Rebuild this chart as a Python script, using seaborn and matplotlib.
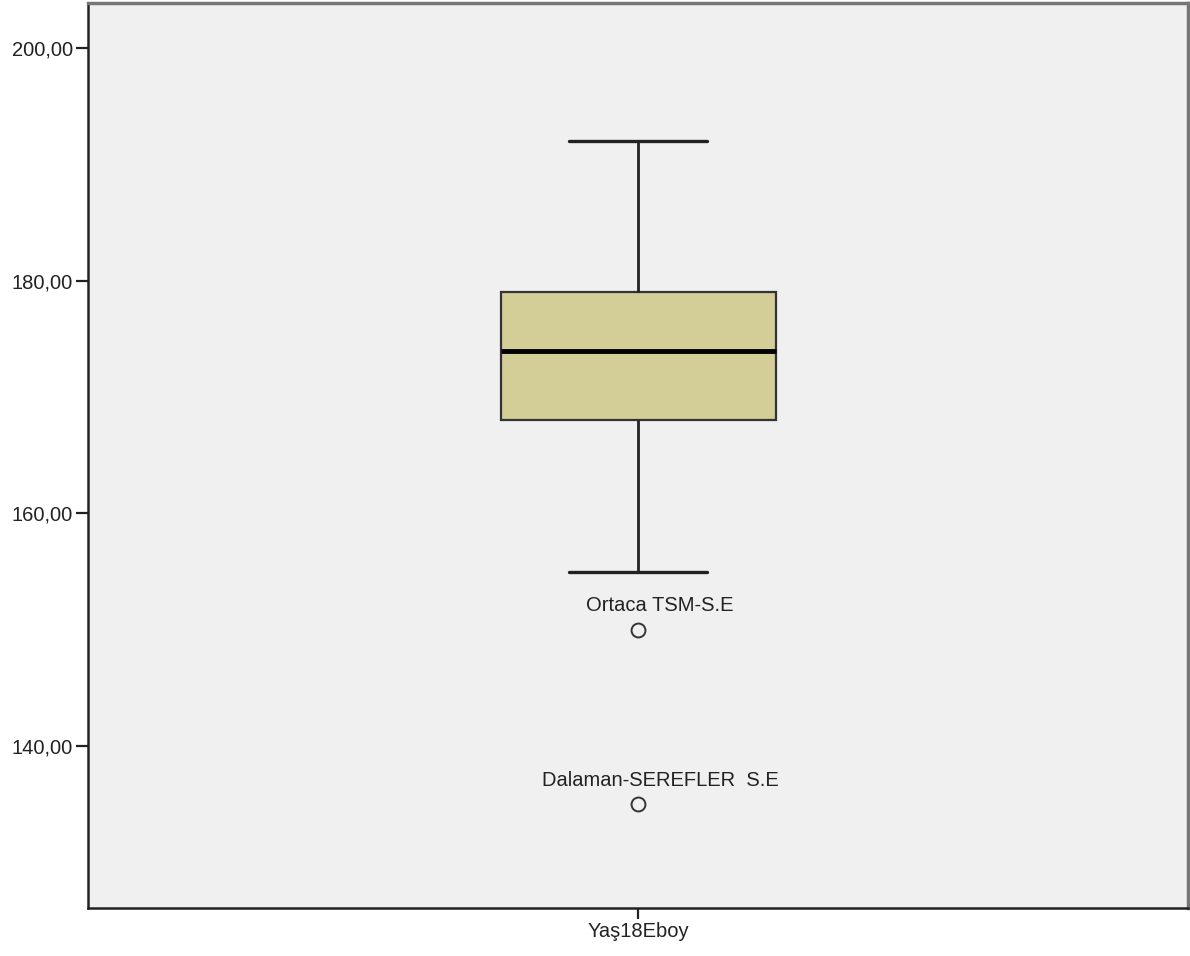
import matplotlib
matplotlib.use("Agg")
import matplotlib.pyplot as plt
import seaborn as sns
import pandas as pd
from matplotlib.ticker import FuncFormatter

# Data (heights; quartiles 168 / 174 / 179, whiskers 155-192, outliers 150 and 135)
variable_name = "Yaş18Eboy"
heights = [135, 150, 155, 168, 170, 172, 174, 176, 178, 179, 184, 188, 192]
outlier_values = [150, 135]
outlier_labels = ["Ortaca TSM-S.E", "Dalaman-SEREFLER  S.E"]
y_ticks = [140, 160, 180, 200]

sns.set_theme(style="ticks")
plt.rcParams["font.family"] = ["Liberation Sans", "DejaVu Sans"]

df = pd.DataFrame({variable_name: heights})

fig = plt.figure(figsize=(11.9, 9.56), dpi=100)
ax = fig.add_axes([88 / 1190, 1 - 908 / 956, 1100 / 1190, 905 / 956])
ax.set_facecolor("#F0F0F0")

sns.boxplot(
    data=df, ax=ax, width=0.25, saturation=1, color="#D3CE98",
    whis=1.5,
    boxprops=dict(edgecolor="#333333", linewidth=1.6),
    whiskerprops=dict(color="#222222", linewidth=2),
    capprops=dict(color="#222222", linewidth=2.4),
    medianprops=dict(color="black", linewidth=3.5),
    flierprops=dict(marker="o", markerfacecolor="none", markeredgecolor="#333333",
                    markersize=10, markeredgewidth=1.4),
)

for val, lab in zip(outlier_values, outlier_labels):
    ax.annotate(lab, xy=(0, val), xytext=(22, 24), textcoords="offset pixels",
                ha="center", va="center", fontsize=14.5, color="#222222")

ax.set_xlim(-0.5, 0.5)
ax.set_ylim(126.08, 203.87)
ax.set_yticks(y_ticks)
ax.yaxis.set_major_formatter(FuncFormatter(lambda v, p: f"{v:.2f}".replace(".", ",")))
ax.tick_params(axis="both", labelsize=14.5, length=9, width=1.6, colors="#222222", pad=2)
ax.tick_params(axis="x", length=8)
ax.set_xlabel("")
ax.set_ylabel("")

for side in ["left", "bottom"]:
    ax.spines[side].set_visible(True)
    ax.spines[side].set_color("#222222")
    ax.spines[side].set_linewidth(1.8)
for side in ["top", "right"]:
    ax.spines[side].set_visible(True)
    ax.spines[side].set_color("#777777")
    ax.spines[side].set_linewidth(2.5)

fig.savefig("out.png", dpi=100, facecolor="white")
